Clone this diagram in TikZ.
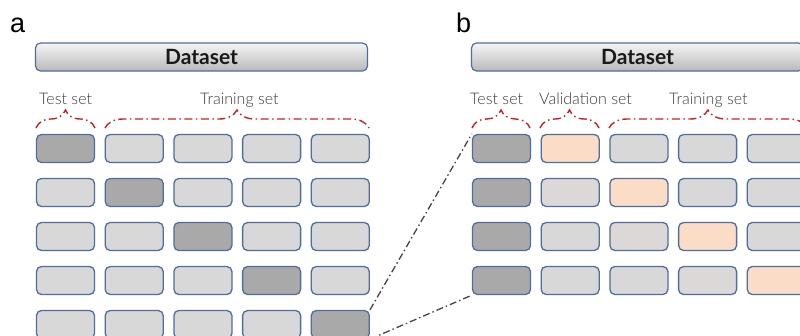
\documentclass[tikz,border=0pt]{standalone}
\usepackage{fontspec}
\setmainfont{Lato}
\IfFontExistsTF{Lato Light}
  {\newfontfamily\labelfont{Lato Light}}
  {\newfontfamily\labelfont{Lato}}
\newfontfamily\panelfont{Liberation Sans}
\usetikzlibrary{decorations.pathreplacing}
\definecolor{edgeblue}{HTML}{4E6DA3}
\definecolor{foldgray}{HTML}{D8D8D8}
\definecolor{testgray}{HTML}{A9A9A9}
\definecolor{valpeach}{HTML}{FADCC7}
\definecolor{usedgray}{HTML}{DCD8D8}
\definecolor{bracered}{HTML}{CC1F24}
\definecolor{labelgray}{HTML}{3A3A3A}
\definecolor{linkgray}{HTML}{454545}
\tikzset{
  fold/.style={draw=edgeblue, line width=1.3pt, rounded corners=5pt,
    minimum width=58pt, minimum height=28pt, inner sep=0pt, fill=foldgray},
  test/.style={fold, fill=testgray},
  valid/.style={fold, fill=valpeach},
  used/.style={fold, fill=usedgray},
  databar/.style={draw=edgeblue, line width=1.2pt, rounded corners=5pt,
    minimum width=332pt, minimum height=28pt, inner sep=0pt,
    top color=gray!8, bottom color=gray!55},
  datatext/.style={font=\bfseries\fontsize{21}{24}\selectfont, text=black!90},
  setlabel/.style={anchor=base west, inner sep=0pt, text=labelgray,
    font=\labelfont\fontsize{16}{18}\selectfont},
  panel/.style={anchor=base west, inner sep=0pt,
    font=\panelfont\fontsize{27}{30}\selectfont},
  setbrace/.style={draw=bracered, line width=1.4pt,
    dash pattern=on 8pt off 3.5pt on 1.5pt off 3.5pt,
    decorate, decoration={brace, amplitude=18pt}},
  zoomlink/.style={draw=linkgray, line width=1.3pt,
    dash pattern=on 7pt off 3pt on 1.5pt off 3pt}
}
\begin{document}
\begin{tikzpicture}[x=1pt, y=-1pt]
\useasboundingbox (0,0) rectangle (800,335);
\clip (0,0) rectangle (800,335);

% ---------- panel a: plain k-fold ----------
\node[panel] (pa) at (10,32) {a};
\node[databar] (barA) at (201.5,57) {};
\node[datatext] (dsA) at (barA.center) {Dataset};

\node[setlabel] (testA) at (39,104) {Test set};
\node[setlabel] (trainA) at (200,104) {Training set};

\foreach \r in {1,...,5}{
  \foreach \c in {1,...,5}{
    \pgfmathsetmacro{\cx}{65.5+68.7*(\c-1)}
    \pgfmathsetmacro{\cy}{148.5+44*(\r-1)}
    \ifnum\r=\c
      \node[test] (L\r\c) at (\cx,\cy) {};
    \else
      \node[fold] (L\r\c) at (\cx,\cy) {};
    \fi
  }
}
\coordinate (bAtl) at (36,128);
\coordinate (bAtr) at (95,128);
\coordinate (bArl) at (105,128);
\coordinate (bArr) at (369,128);
\draw[setbrace] (bAtl) -- (bAtr);
\draw[setbrace] (bArl) -- (bArr);

% ---------- panel b: k-fold with validation ----------
\node[panel] (pb) at (456,32) {b};
\node[databar] (barB) at (637.5,57) {};
\node[datatext] (dsB) at (barB.center) {Dataset};

\node[setlabel] (testB) at (470,104) {Test set};
\node[setlabel] (valB) at (539,104) {Validation set};
\node[setlabel] (trainB) at (669,104) {Training set};

\foreach \r in {1,...,4}{
  \foreach \c in {1,...,5}{
    \pgfmathsetmacro{\cx}{501.5+68.7*(\c-1)}
    \pgfmathsetmacro{\cy}{148.5+44*(\r-1)}
    \pgfmathtruncatemacro{\vc}{\r+1}
    \ifnum\c=1
      \node[test] (R\r\c) at (\cx,\cy) {};
    \else\ifnum\c=\vc
      \node[valid] (R\r\c) at (\cx,\cy) {};
    \else\ifnum\c=\r
      \node[used] (R\r\c) at (\cx,\cy) {};
    \else
      \node[fold] (R\r\c) at (\cx,\cy) {};
    \fi\fi\fi
  }
}
\coordinate (bBtl) at (472,128);
\coordinate (bBtr) at (530,128);
\coordinate (bBvl) at (540,128);
\coordinate (bBvr) at (599,128);
\coordinate (bBrl) at (609,128);
\coordinate (bBrr) at (807,128);
\draw[setbrace] (bBtl) -- (bBtr);
\draw[setbrace] (bBvl) -- (bBvr);
\draw[setbrace] (bBrl) -- (bBrr);

% ---------- zoom lines from the last fold of panel a ----------
\draw[zoomlink] (L55.north east) -- (R11.north west);
\draw[zoomlink] (L55.south east) -- (R41.south west);
\end{tikzpicture}
\end{document}
